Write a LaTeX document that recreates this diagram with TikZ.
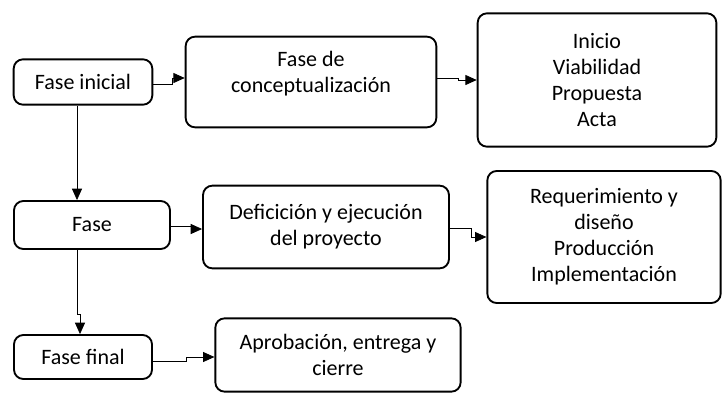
\documentclass[tikz,border=0pt]{standalone}
\usepackage{fontspec}
\setmainfont{Carlito}
\usetikzlibrary{arrows.meta, calc}

\begin{document}
\begin{tikzpicture}[
        x=0.75pt, y=-0.75pt,
        fase/.style={draw, line width=1.4pt, rounded corners=7pt, align=center, inner sep=0pt, font=\fontsize{16.5}{19.5}\selectfont},
        arr/.style={-{Triangle[length=8.5pt, width=7.5pt]}, line width=0.6pt}
      ]
        \useasboundingbox (0,0) rectangle (722,394);
        % columna izquierda
        \node[fase, minimum width=104pt, minimum height=34pt] (fi) at (83,82) {Fase inicial};
        \node[fase, minimum width=117pt, minimum height=36pt] (fa) at (92,225) {Fase};
        \node[fase, minimum width=103.5pt, minimum height=33pt] (ff) at (83,357) {Fase final};
        % columna central
        \node[fase, minimum width=188pt, minimum height=68pt] (conc) at (311,82) {Fase de\\conceptualización\\[-4pt]\mbox{}};
        \node[fase, minimum width=184.5pt, minimum height=62pt] (def) at (326,227) {Deficición y ejecución\\del proyecto};
        \node[fase, minimum width=184pt, minimum height=55pt] (apro) at (338,355) {Aprobación, entrega y\\cierre};
        % columna derecha
        \node[fase, minimum width=179pt, minimum height=100pt] (ini) at (597,80) {Inicio\\Viabilidad\\Propuesta\\Acta};
        \node[fase, minimum width=175pt, minimum height=99pt] (req) at (604,237) {Requerimiento y\\diseño\\Producción\\Implementación};
        % conectores
        \draw[arr] ([yshift=-1.5pt]fi.east) -- ++(19,0) |- ([yshift=3pt]conc.west);
        \draw[arr] ([yshift=3pt]conc.east) -- ++(21,0) |- (ini.west);
        \draw[arr] ([yshift=-0.75pt]fa.east) -- ++(21,0) |- ([yshift=-1.5pt]def.west);
        \draw[arr] ([yshift=-0.75pt]def.east) -- ++(21,0) |- (req.west);
        \draw[arr] ([yshift=-3pt]ff.east) -- ++(33,0) |- ([yshift=-1.5pt]apro.west);
        \draw[arr] ([xshift=-4.5pt]fi.south) -- ([xshift=-4.5pt]fi.south |- fa.north);
        \draw[arr] ([xshift=-11.25pt]fa.south) -- ++(0,64) -| ([xshift=-2.25pt]ff.north);
      \end{tikzpicture}
\end{document}
